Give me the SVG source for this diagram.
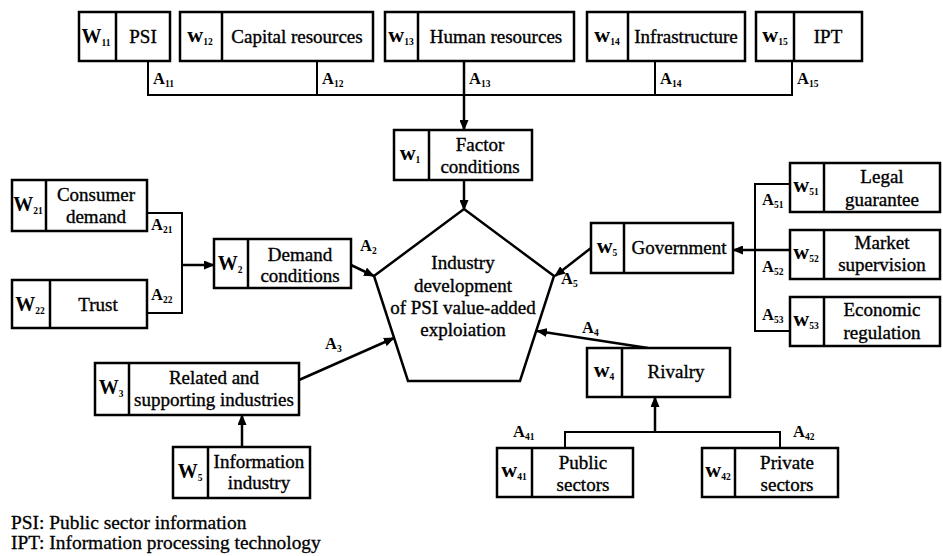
<svg xmlns="http://www.w3.org/2000/svg" width="943" height="556" viewBox="0 0 943 556" font-family="Liberation Serif, Times New Roman, serif">
<style>
.bx{fill:#fff;stroke:#000;stroke-width:2.5}
.dv{stroke:#000;stroke-width:2.5}
.t{font-family:"Liberation Serif",serif;font-size:19px;text-anchor:middle;fill:#000;stroke:#000;stroke-width:0.35}
.w{font-family:"Liberation Serif",serif;font-size:20px;font-weight:bold;text-anchor:middle;fill:#000}
.lw{font-size:22px}
.a{font-family:"Liberation Serif",serif;font-size:16.5px;font-weight:bold;fill:#000}
.s{font-size:9.5px}
.ln{fill:none;stroke:#000;stroke-width:2}
.ar{fill:none;stroke:#000;stroke-width:2.5;marker-end:url(#ah)}
.ft{font-family:"Liberation Serif",serif;font-size:19.4px;fill:#000;stroke:#000;stroke-width:0.3}
</style>
<defs>
<marker id="ah" markerUnits="userSpaceOnUse" markerWidth="11" markerHeight="9" refX="10" refY="4.5" orient="auto">
<path d="M0,0 L11,4.5 L0,9 z" fill="#000"/>
</marker>
</defs>

<g id="connectors">
<polyline class="ln" points="148,61 148,95 792,95 792,61"/>
<line class="ln" x1="317" y1="61" x2="317" y2="95"/>
<line class="ln" x1="655" y1="61" x2="655" y2="95"/>
<line class="ar" x1="464" y1="61" x2="464" y2="130"/>
<line class="ar" x1="464" y1="180" x2="464" y2="210"/>
<polyline class="ln" points="147,213 182,213 182,313 147,313"/>
<line class="ar" x1="182" y1="265" x2="214" y2="265"/>
<line class="ar" x1="351" y1="265" x2="374" y2="276"/>
<polyline class="ln" points="790,184 755,184 755,331 790,331"/>
<line class="ar" x1="790" y1="250" x2="733" y2="250"/>
<line class="ar" x1="591" y1="248" x2="555" y2="276"/>
<line class="ar" x1="648" y1="348" x2="537" y2="331"/>
<polyline class="ln" points="565,448 565,432 780,432 780,448"/>
<line class="ar" x1="655" y1="432" x2="655" y2="397"/>
<line class="ar" x1="299" y1="380" x2="394" y2="338"/>
<line class="ar" x1="242" y1="447" x2="242" y2="415"/>
<text class="a" x="153" y="84">A<tspan class="s" dy="3">11</tspan></text>
<text class="a" x="322" y="84">A<tspan class="s" dy="3">12</tspan></text>
<text class="a" x="469" y="84">A<tspan class="s" dy="3">13</tspan></text>
<text class="a" x="660" y="84">A<tspan class="s" dy="3">14</tspan></text>
<text class="a" x="797" y="84">A<tspan class="s" dy="3">15</tspan></text>
<text class="a" x="151" y="230">A<tspan class="s" dy="3">21</tspan></text>
<text class="a" x="151" y="300">A<tspan class="s" dy="3">22</tspan></text>
<text class="a" x="360" y="251">A<tspan class="s" dy="3">2</tspan></text>
<text class="a" x="325" y="349">A<tspan class="s" dy="3">3</tspan></text>
<text class="a" x="582" y="333">A<tspan class="s" dy="3">4</tspan></text>
<text class="a" x="561" y="284">A<tspan class="s" dy="3">5</tspan></text>
<text class="a" x="762" y="205">A<tspan class="s" dy="3">51</tspan></text>
<text class="a" x="762" y="272">A<tspan class="s" dy="3">52</tspan></text>
<text class="a" x="762" y="320">A<tspan class="s" dy="3">53</tspan></text>
<text class="a" x="513" y="437">A<tspan class="s" dy="3">41</tspan></text>
<text class="a" x="793" y="437">A<tspan class="s" dy="3">42</tspan></text>
</g>

<g id="psi">
<rect class="bx" x="79" y="12" width="91" height="49"/><line class="dv" x1="116" y1="12" x2="116" y2="61"/>
<text class="w" x="96" y="43">W<tspan class="s" dy="3">11</tspan></text>
<text class="t" x="143" y="43">PSI</text>
</g>
<g id="capital">
<rect class="bx" x="180" y="12" width="193" height="49"/><line class="dv" x1="222" y1="12" x2="222" y2="61"/>
<text class="w lw" x="200" y="42">w<tspan class="s" dy="3">12</tspan></text>
<text class="t" x="297" y="43">Capital resources</text>
</g>
<g id="human">
<rect class="bx" x="385" y="12" width="189" height="49"/><line class="dv" x1="418" y1="12" x2="418" y2="61"/>
<text class="w lw" x="401" y="42">w<tspan class="s" dy="3">13</tspan></text>
<text class="t" x="496" y="43">Human resources</text>
</g>
<g id="infra">
<rect class="bx" x="587" y="12" width="158" height="49"/><line class="dv" x1="628" y1="12" x2="628" y2="61"/>
<text class="w lw" x="607" y="42">w<tspan class="s" dy="3">14</tspan></text>
<text class="t" x="686" y="43">Infrastructure</text>
</g>
<g id="ipt">
<rect class="bx" x="756" y="12" width="106" height="49"/><line class="dv" x1="794" y1="12" x2="794" y2="61"/>
<text class="w lw" x="775" y="42">w<tspan class="s" dy="3">15</tspan></text>
<text class="t" x="828" y="43">IPT</text>
</g>

<g id="factor">
<rect class="bx" x="394" y="130" width="138" height="50"/><line class="dv" x1="429" y1="130" x2="429" y2="180"/>
<text class="w lw" x="410" y="160">w<tspan class="s" dy="3">1</tspan></text>
<text class="t" x="480" y="151">Factor</text>
<text class="t" x="480" y="173">conditions</text>
</g>

<g id="center">
<polygon points="464,209 554,276 520,381 408,381 374,276" fill="#fff" stroke="#000" stroke-width="2.5"/>
<text class="t" x="463" y="269">Industry</text>
<text class="t" x="463" y="292">development</text>
<text class="t" x="463" y="314">of PSI value-added</text>
<text class="t" x="463" y="336">exploiation</text>
</g>

<g id="consumer">
<rect class="bx" x="12" y="180" width="135" height="51"/><line class="dv" x1="46" y1="180" x2="46" y2="231"/>
<text class="w" x="28" y="211">W<tspan class="s" dy="3">21</tspan></text>
<text class="t" x="96" y="201">Consumer</text>
<text class="t" x="96" y="223">demand</text>
</g>
<g id="trust">
<rect class="bx" x="12" y="280" width="135" height="48"/><line class="dv" x1="50" y1="280" x2="50" y2="328"/>
<text class="w" x="30" y="311">W<tspan class="s" dy="3">22</tspan></text>
<text class="t" x="98" y="311">Trust</text>
</g>
<g id="demand">
<rect class="bx" x="214" y="239" width="137" height="49"/><line class="dv" x1="248" y1="239" x2="248" y2="288"/>
<text class="w" x="230" y="270">W<tspan class="s" dy="3">2</tspan></text>
<text class="t" x="300" y="261">Demand</text>
<text class="t" x="300" y="282">conditions</text>
</g>

<g id="government">
<rect class="bx" x="591" y="223" width="142" height="50"/><line class="dv" x1="624" y1="223" x2="624" y2="273"/>
<text class="w lw" x="607" y="253">w<tspan class="s" dy="3">5</tspan></text>
<text class="t" x="679" y="254">Government</text>
</g>
<g id="legal">
<rect class="bx" x="790" y="163" width="150" height="49"/><line class="dv" x1="824" y1="163" x2="824" y2="212"/>
<text class="w lw" x="806" y="192">w<tspan class="s" dy="3">51</tspan></text>
<text class="t" x="882" y="183">Legal</text>
<text class="t" x="882" y="206">guarantee</text>
</g>
<g id="market">
<rect class="bx" x="790" y="230" width="150" height="49"/><line class="dv" x1="824" y1="230" x2="824" y2="279"/>
<text class="w lw" x="806" y="259">w<tspan class="s" dy="3">52</tspan></text>
<text class="t" x="882" y="249">Market</text>
<text class="t" x="882" y="271">supervision</text>
</g>
<g id="economic">
<rect class="bx" x="790" y="297" width="150" height="49"/><line class="dv" x1="824" y1="297" x2="824" y2="346"/>
<text class="w lw" x="806" y="326">w<tspan class="s" dy="3">53</tspan></text>
<text class="t" x="882" y="316">Economic</text>
<text class="t" x="882" y="339">regulation</text>
</g>

<g id="rivalry">
<rect class="bx" x="587" y="348" width="143" height="49"/><line class="dv" x1="622" y1="348" x2="622" y2="397"/>
<text class="w lw" x="604" y="377">w<tspan class="s" dy="3">4</tspan></text>
<text class="t" x="676" y="378">Rivalry</text>
</g>
<g id="public">
<rect class="bx" x="497" y="448" width="136" height="49"/><line class="dv" x1="532" y1="448" x2="532" y2="497"/>
<text class="w lw" x="514" y="477">w<tspan class="s" dy="3">41</tspan></text>
<text class="t" x="583" y="469">Public</text>
<text class="t" x="583" y="491">sectors</text>
</g>
<g id="private">
<rect class="bx" x="702" y="448" width="136" height="49"/><line class="dv" x1="735" y1="448" x2="735" y2="497"/>
<text class="w lw" x="718" y="477">w<tspan class="s" dy="3">42</tspan></text>
<text class="t" x="787" y="469">Private</text>
<text class="t" x="787" y="491">sectors</text>
</g>

<g id="related">
<rect class="bx" x="95" y="363" width="204" height="52"/><line class="dv" x1="129" y1="363" x2="129" y2="415"/>
<text class="w" x="111" y="394">W<tspan class="s" dy="3">3</tspan></text>
<text class="t" x="214" y="384">Related and</text>
<text class="t" x="214" y="406">supporting industries</text>
</g>
<g id="information">
<rect class="bx" x="173" y="447" width="137" height="51"/><line class="dv" x1="208" y1="447" x2="208" y2="498"/>
<text class="w" x="190" y="478">W<tspan class="s" dy="3">5</tspan></text>
<text class="t" x="259" y="468">Information</text>
<text class="t" x="259" y="489">industry</text>
</g>

<g id="legend">
<text class="ft" x="11" y="529">PSI: Public sector information</text>
<text class="ft" x="11" y="549">IPT: Information processing technology</text>
</g>
</svg>
